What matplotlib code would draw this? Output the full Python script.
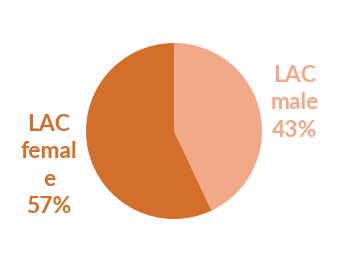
import matplotlib.pyplot as plt

labels = ['LAC\nmale', 'LAC\nfemal\ne']
values = [43, 57]
colors = ['#F2A98A', '#D36F2B']
label_pos = [(1.375, 0.33), (-1.42, -0.38)]

plt.rcParams['font.family'] = ['Lato', 'DejaVu Sans']

fig = plt.figure(figsize=(3.43, 2.55), dpi=100)
ax = fig.add_axes([0, 0, 1, 1])
ax.pie(values, colors=colors, startangle=90, counterclock=False,
       radius=1, center=(0, 0))

for lab, v, c, (x, y) in zip(labels, values, colors, label_pos):
    ax.text(x, y, f'{lab}\n{v}%', color=c, fontsize=16.5, fontweight='bold',
            ha='center', va='center', linespacing=1.38)

ax.set_xlim(-174 / 88, (343 - 174) / 88)
ax.set_ylim(-123 / 88, (255 - 123) / 88)
ax.set_aspect('auto')
ax.axis('off')
fig.savefig('out.png', dpi=100)
